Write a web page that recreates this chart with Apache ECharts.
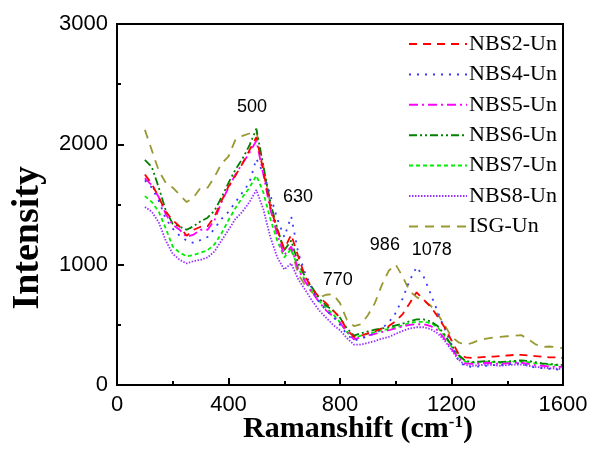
<!DOCTYPE html>
<html>
<head>
<meta charset="utf-8">
<script src="https://cdn.jsdelivr.net/npm/echarts@6/dist/echarts.min.js"></script>
<style>html,body{margin:0;padding:0;background:#fff}#c{width:593px;height:458px}</style>
</head>
<body>
<div id="c"></div>
<script>
var ramanShift = [100,125,150,175,200,225,250,275,300,325,350,375,400,425,450,475,500,525,550,575,600,625,650,675,700,725,750,775,800,825,850,875,900,925,950,975,1000,1025,1050,1075,1100,1125,1150,1175,1200,1225,1250,1275,1300,1325,1350,1375,1400,1425,1450,1475,1500,1525,1550,1575,1600];

var nbs2 = [1750,1670,1560,1440,1370,1315,1240,1290,1315,1320,1400,1530,1650,1740,1840,1950,2060,1780,1480,1290,1130,1250,1070,900,800,730,680,620,560,460,400,410,430,445,470,490,530,590,680,770,710,650,570,480,370,260,230,225,230,235,235,240,245,250,250,245,240,235,230,230,225];
var nbs4 = [1700,1640,1530,1380,1300,1240,1200,1180,1205,1230,1300,1380,1440,1520,1600,1680,1880,1760,1580,1380,1230,1400,1100,930,800,690,620,570,500,420,370,385,405,430,470,520,600,720,870,980,900,760,610,470,340,200,155,150,155,160,165,165,170,180,180,160,145,140,135,130,125];
var nbs5 = [1720,1660,1560,1420,1330,1290,1230,1250,1290,1290,1370,1520,1640,1750,1840,1930,2030,1750,1460,1250,1080,1150,960,860,770,690,620,570,520,440,380,395,410,425,440,455,470,485,500,505,505,490,455,385,300,225,180,175,180,185,180,175,180,185,185,175,165,160,155,150,150];
var nbs6 = [1870,1810,1640,1450,1340,1315,1290,1320,1360,1390,1450,1560,1680,1790,1880,1990,2130,1820,1520,1300,1120,1200,1010,900,810,720,660,620,560,470,410,430,445,460,470,480,495,510,530,545,545,530,490,420,330,250,200,190,195,200,195,190,195,200,205,200,190,180,175,170,165];
var nbs7 = [1570,1520,1440,1300,1150,1100,1070,1080,1100,1120,1170,1260,1370,1470,1560,1640,1740,1600,1380,1200,1060,1130,970,870,780,700,640,590,520,440,390,410,425,440,455,465,480,495,515,525,525,515,480,410,320,240,195,185,190,195,190,185,190,195,195,190,180,175,170,165,165];
var nbs8 = [1480,1440,1350,1200,1090,1040,1010,1030,1040,1060,1110,1200,1290,1380,1440,1520,1620,1460,1230,1060,960,1010,880,790,700,620,560,500,455,390,335,335,350,365,385,400,425,450,470,480,480,465,430,370,290,210,165,160,165,170,165,160,165,170,170,160,150,145,140,135,135];
var isg  = [2120,1950,1780,1680,1640,1580,1520,1560,1640,1640,1730,1840,1900,2040,2070,2090,2110,1820,1500,1290,1110,1130,920,830,770,725,750,755,680,540,490,505,580,680,830,950,1000,900,780,730,700,660,590,500,400,355,335,350,375,385,395,400,405,410,415,380,340,315,320,315,305];

var seriesNames = ['NBS2-Un','NBS4-Un','NBS5-Un','NBS6-Un','NBS7-Un','NBS8-Un','ISG-Un'];
var xTicks = [0,400,800,1200,1600];
var yTicks = [0,1000,2000,3000];

var peakLabels = ['500','630','770','986','1078'];
var peakLabelX = [484,649,792,961,1129];
var peakLabelY = [2311,1563,873,1164,1122];

var colors = ['#ff0000','#3a3aff','#ff00ff','#008000','#00ee00','#9933ff','#999933'];
var dashes = [[8,6],[2,6],[9,4,2,4],[8,3,2,3,2,3],[4,3],[1.5,1.5],[9,7]];
var allData = [nbs2,nbs4,nbs5,nbs6,nbs7,nbs8,isg];

var series = allData.map(function(d, i){
  return {
    name: seriesNames[i], type: 'line', symbol: 'none', animation: false,
    data: ramanShift.map(function(x, k){ return [x, d[k]]; }),
    lineStyle: {color: colors[i], width: 1.8, type: dashes[i]},
    itemStyle: {color: colors[i]},
    z: 10 - i
  };
});
series[6].markPoint = {
  symbol: 'circle', symbolSize: 0, animation: false,
  label: {show: true, position: 'inside', color: '#000', fontSize: 18, fontFamily: 'Liberation Sans, Arial, sans-serif', formatter: function(p){ return p.name; }},
  data: peakLabels.map(function(t, i){ return {name: t, coord: [peakLabelX[i], peakLabelY[i]]}; })
};

var chart = echarts.init(document.getElementById('c'));
chart.setOption({
  animation: false,
  backgroundColor: '#fff',
  grid: {left: 117, top: 24, right: 30, bottom: 73, show: true, borderColor: '#000', borderWidth: 2, backgroundColor: 'rgba(255,255,255,0)', z: 50},
  legend: {
    orient: 'vertical', right: 31, top: 28, itemWidth: 58, itemHeight: 12, itemGap: 8.4,
    data: seriesNames,
    itemStyle: {opacity: 0},
    textStyle: {fontFamily: 'Liberation Serif, Times New Roman, serif', fontSize: 22, color: '#000', padding: [0,0,0,-3]}
  },
  xAxis: {
    type: 'value', min: 0, max: 1600, interval: 400,
    axisLine: {show: true, onZero: false, lineStyle: {color: '#000', width: 2}},
    axisTick: {show: true, inside: true, length: 7, lineStyle: {color: '#000', width: 2}},
    minorTick: {show: true, splitNumber: 2, length: 4, lineStyle: {color: '#000', width: 2}},
    splitLine: {show: false},
    axisLabel: {color: '#000', fontSize: 22, fontFamily: 'Liberation Sans, Arial, sans-serif', margin: 9,
      formatter: function(v){ return xTicks.indexOf(v) >= 0 ? String(v) : ''; }}
  },
  yAxis: {
    type: 'value', min: 0, max: 3000, interval: 1000,
    axisLine: {show: true, onZero: false, lineStyle: {color: '#000', width: 2}},
    axisTick: {show: true, inside: true, length: 7, lineStyle: {color: '#000', width: 2}},
    minorTick: {show: true, splitNumber: 2, length: 4, lineStyle: {color: '#000', width: 2}},
    splitLine: {show: false},
    axisLabel: {color: '#000', fontSize: 22, fontFamily: 'Liberation Sans, Arial, sans-serif', margin: 9,
      formatter: function(v){ return yTicks.indexOf(v) >= 0 ? String(v) : ''; }}
  },
  graphic: [
    {type: 'rect', silent: true, z: 200,
      shape: {x: 117, y: 24, width: 446, height: 361},
      style: {fill: 'none', stroke: '#000', lineWidth: 2}},
    {type: 'text', left: 9, top: 166, rotation: Math.PI/2, originX: 0, originY: 0,
      style: {text: 'Intensity', font: 'bold 38px "Liberation Serif", "Times New Roman", serif', fill: '#000'}},
    {type: 'text', left: 243, top: 414,
      style: {rich: {a: {font: 'bold 30px "Liberation Serif", serif', fill: '#000'}, s: {font: 'bold 17px "Liberation Serif", serif', fill: '#000', verticalAlign: 'top', padding: [0,0,14,0]}},
        text: '{a|Ramanshift (cm}{s|-1}{a|)}'}}
  ],
  series: series
});
</script>
</body>
</html>
